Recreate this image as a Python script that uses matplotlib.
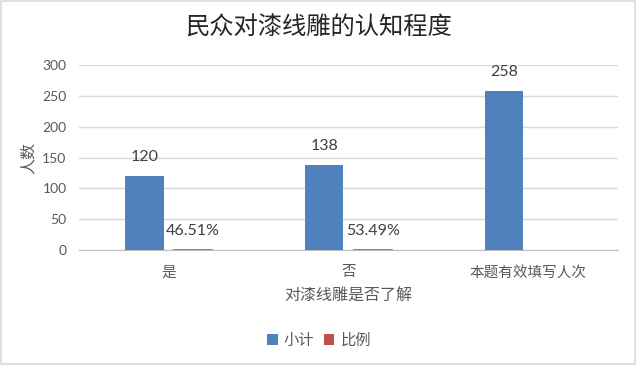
import numpy as np
import matplotlib
matplotlib.use("Agg")
import matplotlib.pyplot as plt
from matplotlib.patches import Rectangle

plt.rcParams['font.family'] = ['Noto Sans CJK SC', 'DejaVu Sans']

# data
categories = ['是', '否', '本题有效填写人次']
subtotal = [120, 138, 258]
ratio = [0.4651, 0.5349, np.nan]
subtotal_labels = ['120', '138', '258']
ratio_labels = ['46.51%', '53.49%', '']

blue = '#4F81BD'
red = '#C0504D'
text_grey = '#595959'

fig = plt.figure(figsize=(6.38, 3.66), dpi=100)
ax = fig.add_axes([0.1238, 0.3169, 0.8449, 0.5055])

x = np.arange(len(categories))
w = 0.213
off = 0.135
b1 = ax.bar(x - off, subtotal, w, color=blue, label='小计', zorder=3)
b2 = ax.bar(x + off, ratio, w, color=red, label='比例', zorder=3)

# red bars are tiny, draw them as a visible line like the original
for xi, r in zip(x, ratio):
    if not np.isnan(r):
        ax.plot([xi + off - w / 2, xi + off + w / 2], [r, r], color=red, lw=1.2, zorder=4)

lbl_font = ['Lato', 'DejaVu Sans']
for xi, v, lab in zip(x, subtotal, subtotal_labels):
    ax.annotate(lab, (xi - off, v), xytext=(0, 8.5), textcoords='offset points',
                ha='center', va='bottom', fontsize=11.5, color='#404040', family=lbl_font)
for xi, v, lab in zip(x, ratio, ratio_labels):
    if lab:
        ax.annotate(lab, (xi + off, v), xytext=(0, 8.5), textcoords='offset points',
                    ha='center', va='bottom', fontsize=11.5, color='#404040', family=lbl_font)

ax.set_xlim(-0.5, 2.5)
ax.set_ylim(0, 300)
ax.set_yticks(np.arange(0, 301, 50))
ax.set_xticks(x)
ax.set_xticklabels(categories, fontsize=10.5, color=text_grey)
for t in ax.get_yticklabels():
    t.set_fontsize(10)
    t.set_color(text_grey)
    t.set_family(lbl_font)
ax.tick_params(axis='both', length=0)
ax.tick_params(axis='y', pad=9)
ax.tick_params(axis='x', pad=11)

ax.grid(axis='y', color='#D9D9D9', lw=1, zorder=0)
for s in ['top', 'right', 'left']:
    ax.spines[s].set_visible(False)
ax.spines['bottom'].set_color('#BFBFBF')

ax.set_xlabel('对漆线雕是否了解', fontsize=11.5, color=text_grey, labelpad=6)
ax.set_ylabel('人数', fontsize=11.5, color=text_grey, labelpad=4)

fig.text(0.5, 0.925, '民众对漆线雕的认知程度', ha='center', va='center',
         fontsize=17.5, color='#262626')

fig.legend(handles=[b1, b2], loc='center', bbox_to_anchor=(0.5, 0.07),
           ncol=2, frameon=False, fontsize=11, handlelength=0.7, handleheight=0.7,
           handletextpad=0.4, columnspacing=0.6, labelcolor=text_grey)

fig.patches.append(Rectangle((0.001, 0.006), 0.995, 0.99, transform=fig.transFigure,
                             fill=False, edgecolor='#D9D9D9', lw=1.2))

fig.savefig('out.png', dpi=100)
